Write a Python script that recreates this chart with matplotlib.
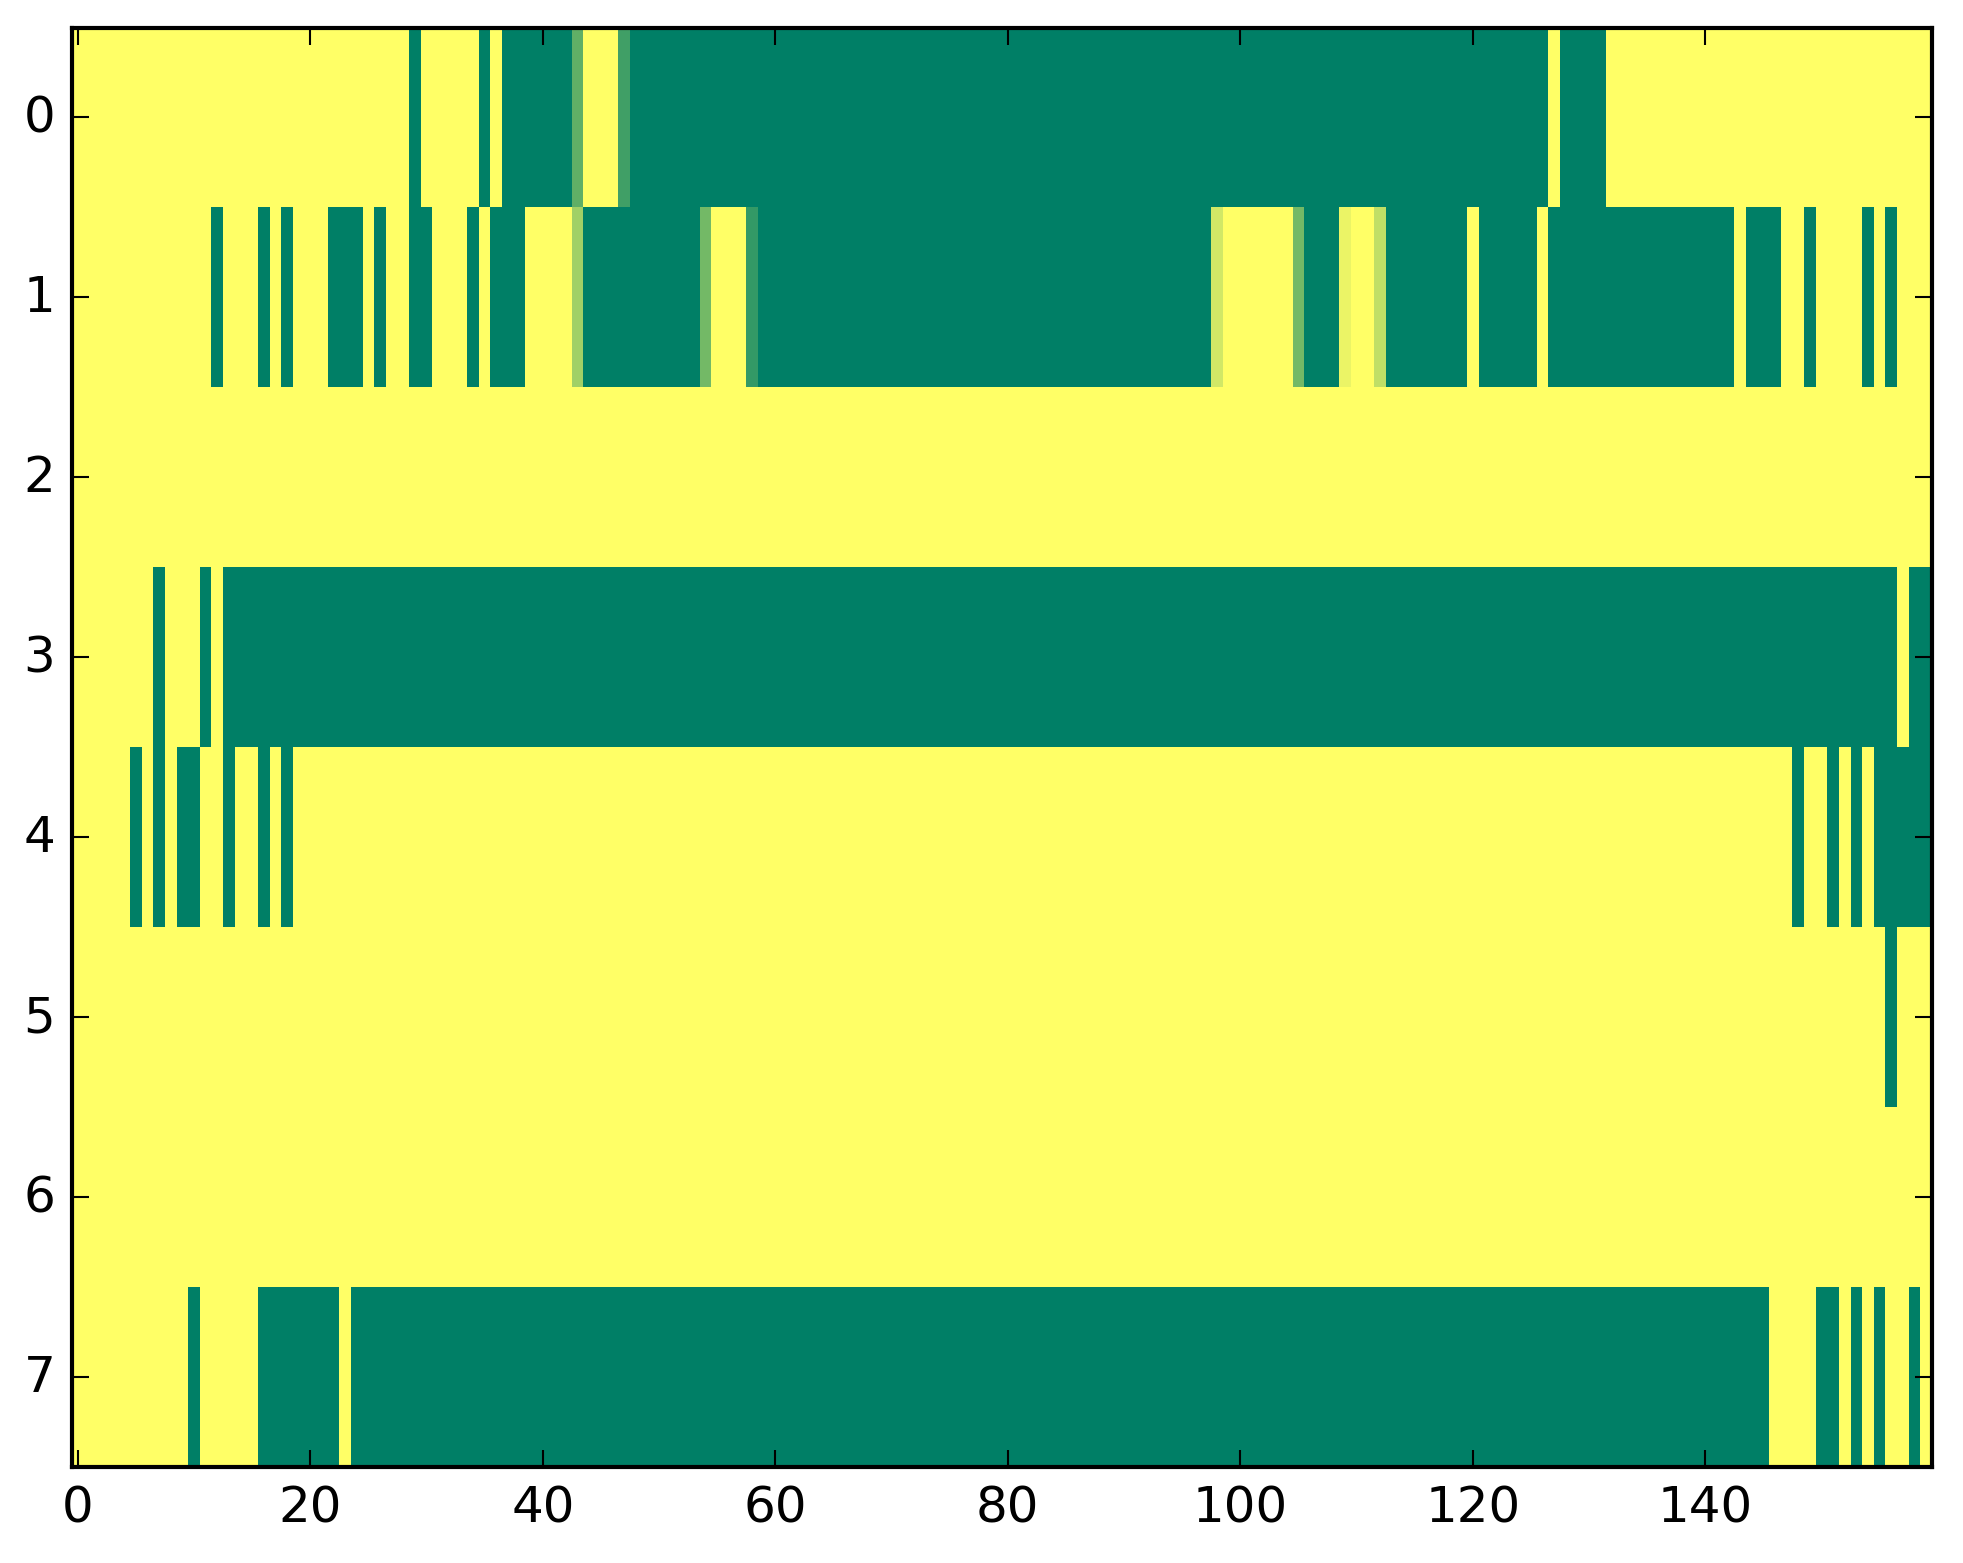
import matplotlib
matplotlib.use("Agg")
import matplotlib.pyplot as plt
import numpy as np

# each row is a list of (value, run length); 1 = yellow end, 0 = green end
row0 = [(1, 29), (0, 1), (1, 5), (0, 1), (1, 1), (0, 6), (0.375, 1), (1, 3),
        (0.25, 1), (0, 79), (1, 1), (0, 4), (1, 28)]
row1 = [(1, 12), (0, 1), (1, 3), (0, 1), (1, 1), (0, 1), (1, 3), (0, 3), (1, 1),
        (0, 1), (1, 2), (0, 2), (1, 3), (0, 1), (1, 1), (0, 3), (1, 4), (0.63, 1),
        (0, 10), (0.45, 1), (1, 3), (0.2, 1), (0, 39), (0.82, 1), (1, 6), (0.45, 1),
        (0, 3), (0.92, 1), (1, 2), (0.75, 1), (0, 7), (1, 1), (0, 5), (1, 1),
        (0, 16), (1, 1), (0, 3), (1, 2), (0, 1), (1, 4), (0, 1), (1, 1), (0, 1),
        (1, 3)]
row2 = [(1, 160)]
row3 = [(1, 7), (0, 1), (1, 3), (0, 1), (1, 1), (0, 144), (1, 1), (0, 2)]
row4 = [(1, 5), (0, 1), (1, 1), (0, 1), (1, 1), (0, 2), (1, 2), (0, 1), (1, 2),
        (0, 1), (1, 1), (0, 1), (1, 129), (0, 1), (1, 2), (0, 1), (1, 1), (0, 1),
        (1, 1), (0, 5)]
row5 = [(1, 156), (0, 1), (1, 3)]
row6 = [(1, 160)]
row7 = [(1, 10), (0, 1), (1, 5), (0, 7), (1, 1), (0, 122), (1, 4), (0, 2), (1, 1),
        (0, 1), (1, 1), (0, 1), (1, 2), (0, 1), (1, 1)]

rows = [row0, row1, row2, row3, row4, row5, row6, row7]
xticks = [0, 20, 40, 60, 80, 100, 120, 140]
yticks = [0, 1, 2, 3, 4, 5, 6, 7]


def expand(runs):
    vals = [v for v, n in runs]
    lens = [n for v, n in runs]
    return np.repeat(vals, lens)


data = np.vstack([expand(r) for r in rows])

plt.style.use("classic")
plt.rcParams["font.family"] = ["DejaVu Sans"]
plt.rcParams["font.size"] = 12

fig = plt.figure(figsize=(1963 / 300, 1564 / 300), dpi=300, facecolor="white")
ax = fig.add_axes([72 / 1963, 1 - 1468 / 1564, (1932 - 72) / 1963, (1468 - 28.5) / 1564])

ax.imshow(data, cmap="summer", aspect="auto", interpolation="nearest", vmin=0, vmax=1)
ax.set_xticks(xticks)
ax.set_yticks(yticks)
ax.set_xlim(-0.5, 159.5)
ax.set_ylim(7.5, -0.5)

fig.savefig("out.png", dpi=300, facecolor="white")
